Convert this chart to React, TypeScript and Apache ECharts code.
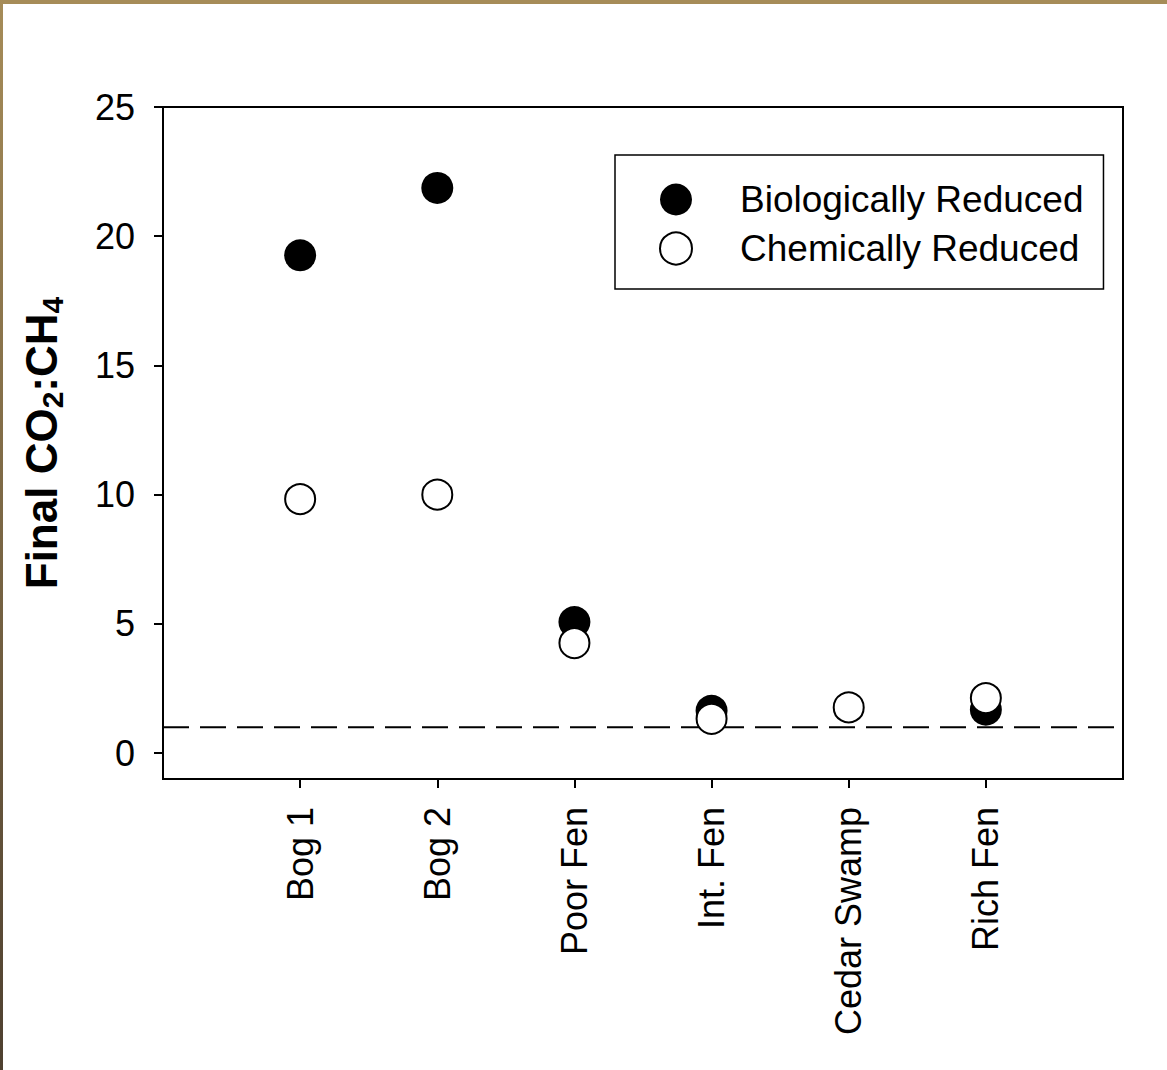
import React, { useEffect, useRef } from "react";
import * as echarts from "echarts";

const categories = ["Bog 1", "Bog 2", "Poor Fen", "Int. Fen", "Cedar Swamp", "Rich Fen"];
const biologicallyReduced: (number | null)[] = [19.26, 21.87, 5.07, 1.64, null, 1.68];
const chemicallyReduced: number[] = [9.83, 10.0, 4.26, 1.33, 1.77, 2.13];
const yTicks = [0, 5, 10, 15, 20, 25];
const referenceRatio = 1;

const FONT = 'Arial, "Liberation Sans", sans-serif';

export default function App() {
  const ref = useRef<HTMLDivElement>(null);
  useEffect(() => {
    document.body.style.margin = "0";
    const chart = echarts.init(ref.current!, null, { renderer: "svg" });
    const xPositions = categories.map((_, i) => i + 1);
    const bioData = categories
      .map((_, i) => [i + 1, biologicallyReduced[i]])
      .filter((d) => d[1] !== null);
    const chemData = categories.map((_, i) => [i + 1, chemicallyReduced[i]]);
    chart.setOption({
      animation: false,
      backgroundColor: "#ffffff",
      textStyle: { fontFamily: FONT, color: "#000" },
      graphic: [
        {
          type: "rect",
          shape: { x: 0, y: 0, width: 1167, height: 4 },
          style: { fill: "#A68C58" },
          z: 100,
        },
        {
          type: "rect",
          shape: { x: 0, y: 0, width: 3, height: 1070 },
          style: {
            fill: new echarts.graphic.LinearGradient(0, 0, 0, 1, [
              { offset: 0, color: "#A68C58" },
              { offset: 1, color: "#4E4030" },
            ]),
          },
          z: 100,
        },
      ],
      grid: {
        left: 163,
        right: 44,
        top: 107,
        bottom: 291,
        show: true,
        borderColor: "#000",
        borderWidth: 2,
        backgroundColor: "transparent",
      },
      legend: {
        orient: "vertical",
        left: 615,
        top: 155,
        padding: [26, 20, 22, 44],
        itemWidth: 32,
        itemHeight: 32,
        itemGap: 12,
        borderColor: "#000",
        borderWidth: 1.5,
        backgroundColor: "#fff",
        textStyle: {
          fontSize: 37,
          fontFamily: FONT,
          color: "#000",
          padding: [0, 0, 0, 43],
        },
        data: [
          { name: "Biologically Reduced", icon: "circle" },
          { name: "Chemically Reduced", icon: "circle" },
        ],
      },
      xAxis: {
        type: "value",
        min: 0,
        max: 7,
        splitLine: { show: false },
        axisLine: { show: true, onZero: false, lineStyle: { color: "#000", width: 2 } },
        axisTick: {
          show: true,
          customValues: xPositions,
          length: 9,
          lineStyle: { color: "#000", width: 2 },
        },
        axisLabel: {
          customValues: xPositions,
          rotate: 90,
          margin: 28,
          fontSize: 36,
          fontFamily: FONT,
          color: "#000",
          formatter: (v: number) => categories[Math.round(v) - 1] ?? "",
        },
      },
      yAxis: {
        type: "value",
        min: -1,
        max: 25,
        splitLine: { show: false },
        axisLine: { show: true, onZero: false, lineStyle: { color: "#000", width: 2 } },
        axisTick: {
          show: true,
          customValues: yTicks,
          length: 9,
          lineStyle: { color: "#000", width: 2 },
        },
        axisLabel: {
          customValues: yTicks,
          margin: 28,
          fontSize: 36,
          fontFamily: FONT,
          color: "#000",
        },
        name: "{a|Final CO}{s|2}{a|:CH}{s|4}",
        nameLocation: "middle",
        nameRotate: 90,
        nameGap: 96,
        nameTextStyle: {
          rich: {
            a: { fontSize: 44, fontWeight: "bold", fontFamily: FONT, color: "#000", lineHeight: 52 },
            s: {
              fontSize: 30,
              fontWeight: "bold",
              fontFamily: FONT,
              color: "#000",
              lineHeight: 34,
              verticalAlign: "bottom",
            },
          },
        },
      },
      series: [
        {
          name: "reference",
          type: "line",
          data: [
            [0, referenceRatio],
            [7, referenceRatio],
          ],
          symbol: "none",
          silent: true,
          lineStyle: { color: "#000", width: 2, type: [26, 11] },
          z: 1,
        },
        {
          name: "Biologically Reduced",
          type: "scatter",
          data: bioData,
          symbol: "circle",
          symbolSize: 32,
          itemStyle: { color: "#000", borderColor: "#000", borderWidth: 0, opacity: 1 },
          z: 2,
        },
        {
          name: "Chemically Reduced",
          type: "scatter",
          data: chemData,
          symbol: "circle",
          symbolSize: 30,
          itemStyle: { color: "#fff", borderColor: "#000", borderWidth: 2, opacity: 1 },
          z: 3,
        },
      ],
    });
    return () => chart.dispose();
  }, []);
  return <div ref={ref} style={{ width: 1167, height: 1070 }} />;
}
